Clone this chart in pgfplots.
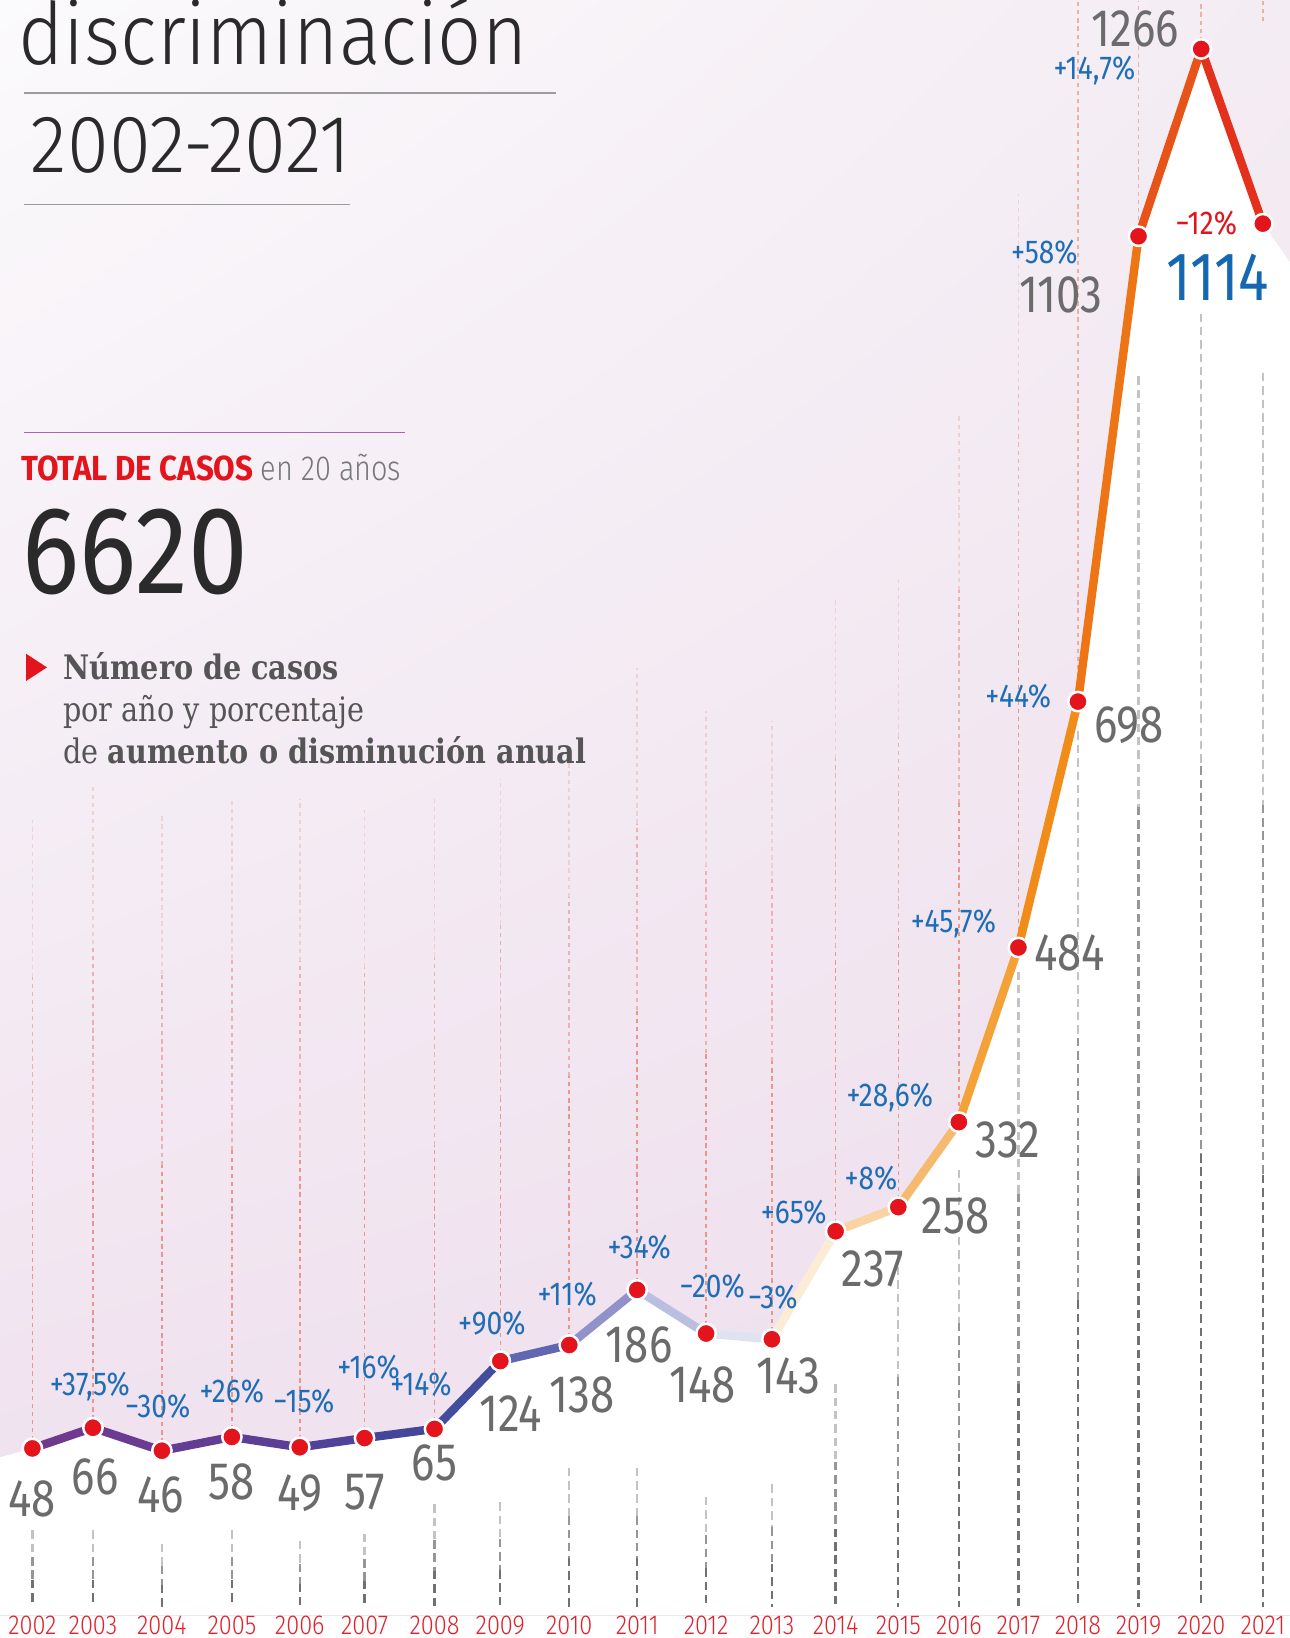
\documentclass[border=0pt]{standalone}
\usepackage{pgfplots}
\pgfplotsset{compat=1.18}
\usepackage{pgfplotstable}
\usepackage{fontspec}
\usetikzlibrary{shadings}
\setmainfont{Fira Sans}
\newfontfamily\cond[FakeStretch=0.83]{Fira Sans}
\newfontfamily\condb[FakeStretch=0.9]{Fira Sans}
\newfontfamily\condl[FakeStretch=0.83]{Fira Sans Light}
\newfontfamily\titl[FakeStretch=0.9]{Fira Sans Light}
\newfontfamily\titn[FakeStretch=0.93]{Fira Sans Light}
\newfontfamily\yearf[FakeStretch=0.86]{Fira Sans Light}
\newfontfamily\bignum[FakeStretch=0.86]{Fira Sans}
\newfontfamily\pct[FakeStretch=0.85]{Fira Sans}
\newfontfamily\ser[FakeStretch=0.85]{DejaVu Serif}

\definecolor{vgray}{HTML}{6B6B6B}
\definecolor{pblue}{HTML}{1F6DB5}
\definecolor{vblue}{HTML}{1467B0}
\definecolor{yred}{HTML}{E3202A}
\definecolor{dotred}{HTML}{E3141C}
\definecolor{ink}{HTML}{2A2A2A}
\definecolor{sgray}{HTML}{555555}
\definecolor{lgray}{HTML}{777777}
\definecolor{pinkd}{HTML}{E8907F}
\definecolor{grayd}{HTML}{6A6A6A}
\definecolor{bgUL}{HTML}{FBFAFC}
\definecolor{bgUR}{HTML}{F4ECF3}
\definecolor{bgLL}{HTML}{EFE0EE}
\definecolor{bgLR}{HTML}{EDDDEC}
\definecolor{rule}{HTML}{9C9C9C}
\definecolor{prule}{HTML}{A868AE}

\pgfplotstableread{
pos  year cases
31   2002 48
89   2003 66
155  2004 46
222  2005 58
287  2006 49
349  2007 57
416  2008 65
479  2009 124
545  2010 138
610  2011 186
676  2012 148
739  2013 143
800  2014 237
860  2015 258
918  2016 332
975  2017 484
1032 2018 698
1090 2019 1103
1150 2020 1266
1209 2021 1114
}\data

% guide lines: upper (from the dot upwards) and lower (down to the year)
\pgfplotstableread{
pos  v    L
31   48   547
89   66   561
155  46   553
222  58   555
287  49   564
349  57   547
416  65   548
479  124  507
545  138  520
610  186  541
676  148  542
739  143  538
800  237  549
860  258  546
918  332  617
975  484  656
}\gup
\pgfplotstableread{
pos  v    L
1032 698  610
1090 1103 205
1150 1266 42
1209 1290 18
}\gtop
\pgfplotstableread{
pos  low    Ld
31   -23.4  66.3
89   -23.4  66.3
155  -35.2  54.5
222  -23.4  66.3
287  -32.4  57.3
349  -26.1  63.6
416  -0.6   89.1
479  1.2    90.9
545  31.2   120.9
610  31.2   120.9
676  5.7    95.4
739  16.6   106.3
800  103.9  193.6
860  217.5  307.2
918  290.3  380
975  463    552.7
1032 672    761.7
1090 981    1070.7
1150 1035.7 1125.4
1209 984    1073.7
}\glow

\newcommand\vlab{\cond\fontsize{15}{15}\selectfont}
\newcommand\plab{\pct\fontsize{9.4}{10}\selectfont}

\pgfplotsset{
  guide/.style n args={3}{forget plot, mark=none, draw=none,
    error bars/.cd, y dir=#1, y explicit, error mark=none,
    error bar style={draw=#2, opacity=#3, line width=0.45pt, dash pattern=on 1.2pt off 1.1pt}},
  gguide/.style n args={2}{forget plot, mark=none, draw=none,
    error bars/.cd, y dir=minus, y explicit, error mark=none,
    error bar style={draw=#1, opacity=#2, line width=0.65pt, dash pattern=on 2.4pt off 1.4pt}},
}

\begin{document}
\begin{tikzpicture}
\begin{axis}[
  at={(0,2.298mm)}, anchor=south west,
  scale only axis, width=12.9cm, height=161.48mm,
  xmin=0, xmax=1235, ymin=-97.0, ymax=1308.45,
  axis line style={draw=none},
  ytick=\empty,
  xtick={31,89,155,222,287,349,416,479,545,610,676,739,800,860,918,975,1032,1090,1150,1209},
  xticklabels={2002,2003,2004,2005,2006,2007,2008,2009,2010,2011,2012,2013,2014,2015,2016,2017,2018,2019,2020,2021},
  major tick length=0pt,
  xticklabel style={font=\yearf\fontsize{7.8}{8}\selectfont, text=yred, inner sep=0pt, outer sep=0pt, yshift=-0.3pt},
  axis background/.style={shade, upper left=bgUL, upper right=bgUR, lower left=bgLL, lower right=bgLR},
  point meta min=31, point meta max=1209,
  colormap={linecm}{rgb255(31)=(112,56,140) rgb255(89)=(110,58,142) rgb255(250)=(92,62,150) rgb255(416)=(62,72,155) rgb255(479)=(72,82,162) rgb255(545)=(120,125,190) rgb255(610)=(168,168,212) rgb255(676)=(205,214,235) rgb255(739)=(238,240,246) rgb255(770)=(253,236,212) rgb255(800)=(250,222,182) rgb255(860)=(248,200,140) rgb255(918)=(245,172,82) rgb255(975)=(243,150,28) rgb255(1032)=(240,130,20) rgb255(1090)=(235,105,22) rgb255(1150)=(230,62,26) rgb255(1209)=(225,36,30)},
]
% white area below the line
\addplot[draw=none, fill=white, forget plot] coordinates {
 (0,-97) (0,40.3) (31,48) (89,66) (155,46) (222,58) (287,49) (349,57) (416,65)
 (479,124) (545,138) (610,186) (676,148) (739,143) (800,237) (860,258) (918,332)
 (975,484) (1032,698) (1090,1103) (1150,1266) (1209,1114) (1235,1080.3) (1235,-97)};

% upper pink guides, fading towards the top
\addplot[guide={plus}{pinkd}{0.9}] table[x=pos, y=v, y error expr=0.45*\thisrow{L}] {\gup};
\addplot[guide={plus}{pinkd}{0.6}] table[x=pos, y expr=\thisrow{v}+0.45*\thisrow{L}, y error expr=0.3*\thisrow{L}] {\gup};
\addplot[guide={plus}{pinkd}{0.28}] table[x=pos, y expr=\thisrow{v}+0.75*\thisrow{L}, y error expr=0.25*\thisrow{L}] {\gup};
\addplot[guide={plus}{pinkd}{0.65}] table[x=pos, y=v, y error=L] {\gtop};

% lower gray guides, fading towards the top
\addplot[gguide={grayd}{0.4}] table[x=pos, y=low, y error expr=0.35*\thisrow{Ld}] {\glow};
\addplot[gguide={grayd}{0.7}] table[x=pos, y expr=\thisrow{low}-0.35*\thisrow{Ld}, y error expr=0.3*\thisrow{Ld}] {\glow};
\addplot[gguide={grayd}{0.95}] table[x=pos, y expr=\thisrow{low}-0.65*\thisrow{Ld}, y error expr=0.35*\thisrow{Ld}] {\glow};

% the line
\addplot[mesh, point meta=x, line width=2.4pt, line cap=round, forget plot] table[x=pos,y=cases]{\data};
% the dots
\addplot[only marks, mark=*, mark size=2.75pt, mark options={fill=dotred, draw=white, line width=0.7pt}] table[x=pos,y=cases]{\data};
\end{axis}

\begin{scope}[x=0.10445mm, y=-0.10445mm, yshift=16.38cm]
 % titles
 \node[anchor=base west, inner sep=0, text=ink] at (17,62) {\titl\fontsize{24.5}{24}\selectfont discriminación};
 \draw[rule, line width=0.45pt] (23,89) -- (532,89);
 \node[anchor=base west, inner sep=0, text=ink] at (29,165) {\titn\fontsize{23.2}{23}\selectfont 2002-2021};
 \draw[rule, line width=0.45pt] (23,196) -- (335,196);
 \draw[prule, line width=0.35pt] (23,414) -- (388,414);
 \node[anchor=base west, inner sep=0] at (20,460) {\condb\bfseries\fontsize{9.9}{10}\selectfont\color{dotred}TOTAL DE CASOS {\condl\mdseries\color{lgray} en 20 años}};
 \node[anchor=base west, inner sep=0, text=ink] at (21,568) {\bignum\fontsize{35.4}{35}\selectfont 6620};
 \fill[dotred] (25,626) -- (45,639) -- (25,652) -- cycle;
 \node[anchor=base west, inner sep=0, text=sgray] at (60,651) {\ser\bfseries\fontsize{9.6}{10}\selectfont Número de casos};
 \node[anchor=base west, inner sep=0, text=sgray] at (60,691) {\ser\fontsize{9.6}{10}\selectfont por año y porcentaje};
 \node[anchor=base west, inner sep=0, text=sgray] at (60,731) {\ser\fontsize{9.6}{10}\selectfont de \textbf{aumento o disminución anual}};

 % value labels
 \begin{scope}[every node/.style={anchor=base, inner sep=0, text=vgray, font=\vlab}]
  \node at (31,1452) {48};
  \node at (91,1431) {66};
  \node at (154,1448) {46};
  \node at (222,1436) {58};
  \node at (287,1446) {49};
  \node at (349,1445) {57};
  \node at (416,1418) {65};
  \node at (489,1371) {124};
  \node at (557,1352) {138};
  \node at (612,1305) {186};
  \node at (673,1343) {148};
  \node at (755,1334) {143};
  \node at (836,1232) {237};
  \node at (915,1181) {258};
  \node at (965,1108) {332};
  \node at (1024,929) {484};
  \node at (1081,711) {698};
  \node at (1016,299) {1103};
  \node at (1087,45) {1266};
 \end{scope}
 \node[anchor=base, inner sep=0, text=vblue] at (1166,288) {\cond\fontsize{19.5}{19}\selectfont 1114};

 % percentage labels
 \begin{scope}[every node/.style={anchor=base, inner sep=0, text=pblue, font=\plab}]
  \node at (86,1336) {+37,5\%};
  \node at (151,1357) {−30\%};
  \node at (222,1343) {+26\%};
  \node at (291,1352) {−15\%};
  \node at (353,1320) {+16\%};
  \node at (403,1336) {+14\%};
  \node at (471,1278) {+90\%};
  \node at (543,1250) {+11\%};
  \node at (612,1205) {+34\%};
  \node at (682,1242) {−20\%};
  \node at (740,1253) {−3\%};
  \node at (760,1171) {+65\%};
  \node at (834,1139) {+8\%};
  \node at (852,1059) {+28,6\%};
  \node at (913,893) {+45,7\%};
  \node at (975,677) {+44\%};
  \node at (1000,252) {+58\%};
  \node at (1048,76) {+14,7\%};
  \node[text=dotred] at (1155,225) {−12\%};
 \end{scope}
\end{scope}
\pgfresetboundingbox
\useasboundingbox (0,0) rectangle (12.9cm,16.38cm);
\end{tikzpicture}
\end{document}
